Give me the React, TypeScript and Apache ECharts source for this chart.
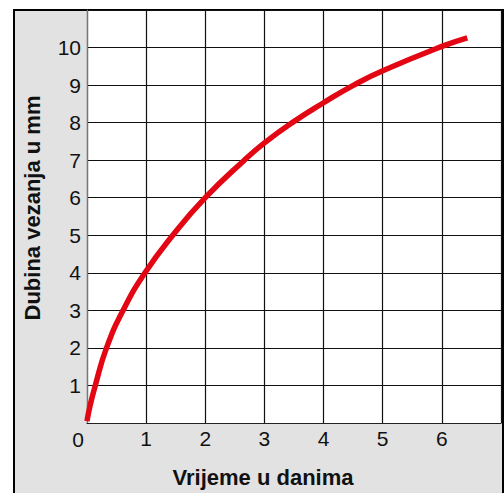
import React, { useEffect, useRef } from "react";
import * as echarts from "echarts";

const xTicks = [0, 1, 2, 3, 4, 5, 6, 7];
const yTicks = [0, 1, 2, 3, 4, 5, 6, 7, 8, 9, 10, 11];
const days = [0, 0.05, 0.14, 0.33, 0.61, 0.98, 1.45, 2.0, 2.66, 3.0, 3.47, 4.0, 4.51, 5.0, 6.0, 6.43];
const depth = [0.05, 0.45, 1, 2, 3, 4, 5, 6, 7, 7.46, 8, 8.53, 9, 9.38, 10.03, 10.26];
const xTitle = "Vrijeme u danima";
const yTitle = "Dubina vezanja u mm";

const FONT = "'Liberation Sans', Arial, Helvetica, sans-serif";

export default function App() {
  const ref = useRef<HTMLDivElement>(null);
  useEffect(() => {
    if (!ref.current) return;
    const chart = echarts.init(ref.current, null, { renderer: "svg" });
    const xMin = xTicks[0];
    const xMax = xTicks[xTicks.length - 1];
    const yMin = yTicks[0];
    const yMax = yTicks[yTicks.length - 1];
    chart.setOption({
      animation: false,
      backgroundColor: "#ffffff",
      textStyle: { fontFamily: FONT },
      grid: {
        left: 87,
        right: 3,
        top: 10,
        bottom: 70,
        show: true,
        backgroundColor: "#ffffff",
        borderWidth: 0,
      },
      graphic: {
        elements: [
          {
            type: "rect",
            z: -100,
            shape: { x: 14, y: 10, width: 489, height: 500 },
            style: { fill: "#e2e2e2", stroke: "#000", lineWidth: 2 },
          },
          {
            type: "text",
            x: 78,
            y: 439,
            style: {
              text: String(xMin),
              fontSize: 21,
              fontFamily: FONT,
              fill: "#111",
              align: "center",
              verticalAlign: "middle",
            },
          },
          {
            type: "text",
            x: 263,
            y: 477,
            style: {
              text: xTitle,
              fontSize: 22,
              fontWeight: "bold",
              fontFamily: FONT,
              fill: "#111",
              align: "center",
              verticalAlign: "middle",
            },
          },
          {
            type: "text",
            x: 32,
            y: 208,
            rotation: Math.PI / 2,
            style: {
              text: yTitle,
              fontSize: 22,
              fontWeight: "bold",
              fontFamily: FONT,
              fill: "#111",
              align: "center",
              verticalAlign: "middle",
            },
          },
        ],
      },
      xAxis: {
        type: "value",
        min: xMin,
        max: xMax,
        interval: 1,
        axisLine: { show: true, lineStyle: { color: "#222", width: 1.2 } },
        axisTick: { show: false },
        axisLabel: {
          margin: 5,
          fontSize: 21,
          color: "#111",
          fontFamily: FONT,
          formatter: (v: number) => (v === xMin || v === xMax ? "" : String(v)),
        },
        splitLine: { show: true, lineStyle: { color: "#111", width: 1.2 } },
      },
      yAxis: {
        type: "value",
        min: yMin,
        max: yMax,
        interval: 1,
        axisLine: { show: true, lineStyle: { color: "#777", width: 1.2 } },
        axisTick: { show: false },
        axisLabel: {
          margin: 6,
          fontSize: 21,
          color: "#111",
          fontFamily: FONT,
          verticalAlign: "middle",
          padding: [0, 0, 14, 0],
          formatter: (v: number) => (v === yMin || v === yMax ? "" : String(v)),
        },
        splitLine: { show: true, lineStyle: { color: "#111", width: 1.2 } },
      },
      series: [
        {
          type: "line",
          data: days.map((d, i) => [d, depth[i]]),
          smooth: 0.5,
          showSymbol: false,
          symbol: "none",
          lineStyle: { color: "#e30613", width: 5.5 },
          z: 10,
        },
      ],
    });
    return () => chart.dispose();
  }, []);
  return (
    <div
      ref={ref}
      style={{ position: "fixed", left: 0, top: 0, width: 504, height: 493 }}
    />
  );
}
